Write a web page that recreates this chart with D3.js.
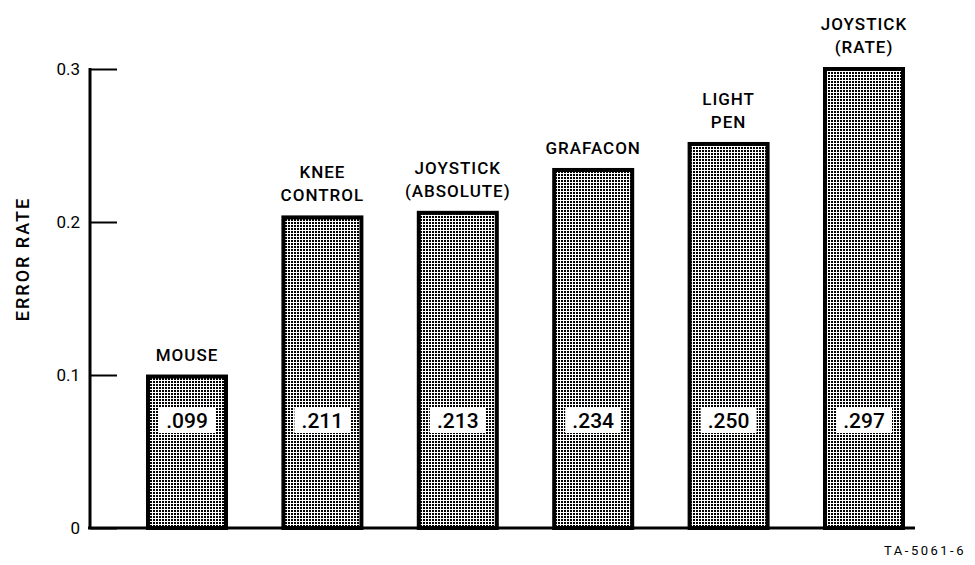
<!DOCTYPE html>
<html>
<head>
<meta charset="utf-8">
<script src="https://cdn.jsdelivr.net/npm/d3@7"></script>
<style>
  body { margin: 0; background: #fff; }
  svg { display: block; }
  text { font-family: Roboto, "Liberation Sans", sans-serif; fill: #000; }
</style>
</head>
<body>
<svg id="chart" width="975" height="565"></svg>
<script>
// Data
const devices = ['MOUSE', 'KNEE CONTROL', 'JOYSTICK (ABSOLUTE)', 'GRAFACON', 'LIGHT PEN', 'JOYSTICK (RATE)']
const labelLines = [['MOUSE'], ['KNEE', 'CONTROL'], ['JOYSTICK', '(ABSOLUTE)'], ['GRAFACON'], ['LIGHT', 'PEN'], ['JOYSTICK', '(RATE)']]
const printedRates = ['.099', '.211', '.213', '.234', '.250', '.297']
const drawnHeights = [0.099, 0.203, 0.206, 0.234, 0.251, 0.300] // bar tops as drawn
const yTicks = [0, 0.1, 0.2, 0.3]
const yTickLabels = ['0', '0.1', '0.2', '0.3']

const svg = d3.select('#chart')

// pattern for the dotted bar fill
const defs = svg.append('defs')
const pat = defs.append('pattern')
  .attr('id', 'dots')
  .attr('patternUnits', 'userSpaceOnUse')
  .attr('width', 3).attr('height', 3)
pat.append('rect').attr('width', 3).attr('height', 3).attr('fill', '#fff')
pat.append('rect').attr('width', 2).attr('height', 2).attr('fill', '#000')

const x = d3.scalePoint().domain(devices).range([187, 864])
const barW = 78
const y = d3.scaleLinear().domain([0, 0.3]).range([528, 69])

// axes
const yAxis = d3.axisRight(y).tickValues(yTicks).tickSize(27).tickFormat('')
const gY = svg.append('g').attr('transform', 'translate(90,0)').call(yAxis)
gY.select('.domain').remove()
gY.selectAll('.tick line').attr('stroke', '#000').attr('stroke-width', 2)

svg.append('line')
  .attr('x1', 90).attr('x2', 90)
  .attr('y1', y(0.3) - 1).attr('y2', y(0) + 1)
  .attr('stroke', '#000').attr('stroke-width', 3)
svg.append('line')
  .attr('x1', 88).attr('x2', 915)
  .attr('y1', y(0)).attr('y2', y(0))
  .attr('stroke', '#000').attr('stroke-width', 3)

svg.selectAll('.ylab')
  .data(yTicks)
  .join('text')
  .attr('class', 'ylab')
  .attr('x', 80)
  .attr('y', d => y(d) + 6)
  .attr('text-anchor', 'end')
  .attr('font-size', 17)
  .text((d, i) => yTickLabels[i])

svg.append('text')
  .attr('transform', 'translate(29,259) rotate(-90)')
  .attr('text-anchor', 'middle')
  .attr('font-size', 18)
  .attr('font-weight', 500)
  .attr('letter-spacing', 2)
  .text('ERROR RATE')

// bars
svg.selectAll('.bar')
  .data(devices)
  .join('rect')
  .attr('class', 'bar')
  .attr('x', d => x(d) - barW / 2)
  .attr('width', barW)
  .attr('y', (d, i) => y(drawnHeights[i]))
  .attr('height', (d, i) => y(0) - y(drawnHeights[i]))
  .attr('fill', 'url(#dots)')
  .attr('stroke', '#000')
  .attr('stroke-width', 4)

// value boxes
const vb = svg.selectAll('.vbox')
  .data(devices)
  .join('g')
  .attr('class', 'vbox')
  .attr('transform', d => `translate(${x(d)},420)`)
vb.append('rect')
  .attr('x', -28).attr('y', -13)
  .attr('width', 56).attr('height', 26)
  .attr('fill', '#fff')
vb.append('text')
  .attr('text-anchor', 'middle')
  .attr('y', 8)
  .attr('font-size', 21)
  .attr('font-weight', 500)
  .text((d, i) => printedRates[i])

// category labels
devices.forEach((d, i) => {
  const lines = labelLines[i]
  const top = y(drawnHeights[i])
  lines.forEach((ln, j) => {
    svg.append('text')
      .attr('x', x(d))
      .attr('y', top - 16 - (lines.length - 1 - j) * 23)
      .attr('text-anchor', 'middle')
      .attr('font-size', 17)
      .attr('font-weight', 500)
      .attr('letter-spacing', 1)
      .text(ln)
  })
})

svg.append('text')
  .attr('x', 966).attr('y', 555)
  .attr('text-anchor', 'end')
  .attr('font-size', 13)
  .attr('letter-spacing', 2.5)
  .text('TA-5061-6')
</script>
</body>
</html>
